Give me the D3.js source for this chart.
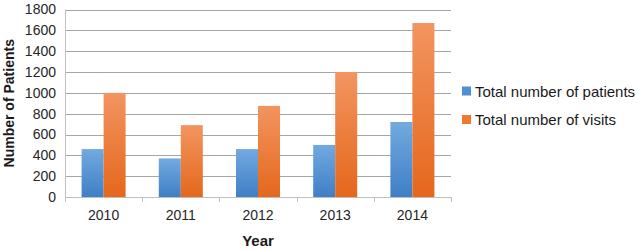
<!DOCTYPE html>
<html><head><meta charset="utf-8">
<script src="https://cdn.jsdelivr.net/npm/d3@7"></script>
<style>html,body{margin:0;padding:0;background:#fff;}</style>
</head><body>
<svg id="chart" width="638" height="251"></svg>
<script>
const years = ["2010","2011","2012","2013","2014"];
const seriesNames = ["Total number of patients","Total number of visits"];
const patients = [460, 370, 460, 500, 720];
const visits = [1000, 690, 875, 1200, 1670];
const yTicks = [0,200,400,600,800,1000,1200,1400,1600,1800];

const svg = d3.select("#chart");
const font = "'Liberation Sans', Arial, sans-serif";
const L = 65, R = 451, T = 9.5, B = 197;

const defs = svg.append("defs");
const grads = [["gBlue","#72aae0","#3f7fc6"],["gOrange","#f29560","#e5671c"]];
grads.forEach(([id,c1,c2])=>{
  const g = defs.append("linearGradient").attr("id",id).attr("x1",0).attr("y1",0).attr("x2",0).attr("y2",1);
  g.append("stop").attr("offset","0%").attr("stop-color",c1);
  g.append("stop").attr("offset","100%").attr("stop-color",c2);
});
const fills = ["url(#gBlue)","url(#gOrange)"];
const legendColors = ["#4f8fd3","#ee7a32"];

const x0 = d3.scaleBand().domain(years).range([L,R]).padding(0);
const bw = x0.bandwidth();
const x1 = d3.scaleBand().domain([0,1]).range([bw*0.215, bw*0.785]).padding(0);
const y = d3.scaleLinear().domain([0,1800]).range([B,T]);

// gridlines
svg.append("g").selectAll("line").data(yTicks.filter(d=>d>0)).join("line")
  .attr("x1",L).attr("x2",R).attr("y1",d=>Math.round(y(d))+0.5).attr("y2",d=>Math.round(y(d))+0.5)
  .attr("stroke","#a6a6a6").attr("stroke-width",1);

// y axis
const ya = svg.append("g").attr("transform",`translate(${L},0)`)
  .call(d3.axisLeft(y).tickValues(yTicks).tickFormat(d3.format("d")).tickSize(0).tickPadding(9));
ya.select(".domain").attr("stroke","#bfbfbf").attr("d",`M0.5,${T}V${B}`);
ya.selectAll("text").attr("font-family",font).attr("font-size",14).attr("fill","#262626");

// bars
const data = years.map((yr,i)=>({yr, vals:[patients[i], visits[i]]}));
const groups = svg.append("g").selectAll("g").data(data).join("g")
  .attr("transform",d=>`translate(${x0(d.yr)},0)`);
groups.selectAll("rect").data(d=>d.vals.map((v,k)=>({v,k}))).join("rect")
  .attr("x",d=>x1(d.k)).attr("width",x1.bandwidth())
  .attr("y",d=>y(d.v)).attr("height",d=>y(0)-y(d.v))
  .attr("fill",d=>fills[d.k]);

// x axis
const xa = svg.append("g").attr("transform",`translate(0,${B})`)
  .call(d3.axisBottom(x0).tickSize(0).tickPadding(13));
xa.select(".domain").attr("stroke","#bfbfbf").attr("d",`M${L},0.5H${R}`);
xa.selectAll("text").attr("font-family",font).attr("font-size",14).attr("fill","#262626");
const bounds = years.map(d=>x0(d)).concat([R]);
svg.append("g").selectAll("line").data(bounds).join("line")
  .attr("x1",d=>Math.round(d)+0.5).attr("x2",d=>Math.round(d)+0.5)
  .attr("y1",B).attr("y2",B+5).attr("stroke","#bfbfbf");

// axis titles
svg.append("text").attr("x",(L+R)/2).attr("y",246).attr("text-anchor","middle")
  .attr("font-family",font).attr("font-size",15).attr("font-weight","bold").attr("fill","#1a1a1a").text("Year");
svg.append("text").attr("transform",`translate(14,${(T+B)/2}) rotate(-90)`).attr("text-anchor","middle")
  .attr("font-family",font).attr("font-size",14).attr("font-weight","bold").attr("fill","#1a1a1a").text("Number of Patients");

// legend
const lg = svg.append("g").selectAll("g").data(seriesNames).join("g")
  .attr("transform",(d,i)=>`translate(462,${91+i*28.5})`);
lg.append("rect").attr("x",0).attr("y",-4.5).attr("width",9).attr("height",9).attr("fill",(d,i)=>legendColors[i]);
lg.append("text").attr("x",13).attr("y",5.5).attr("font-family",font).attr("font-size",15).attr("fill","#1a1a1a").text(d=>d);
</script>
</body></html>
